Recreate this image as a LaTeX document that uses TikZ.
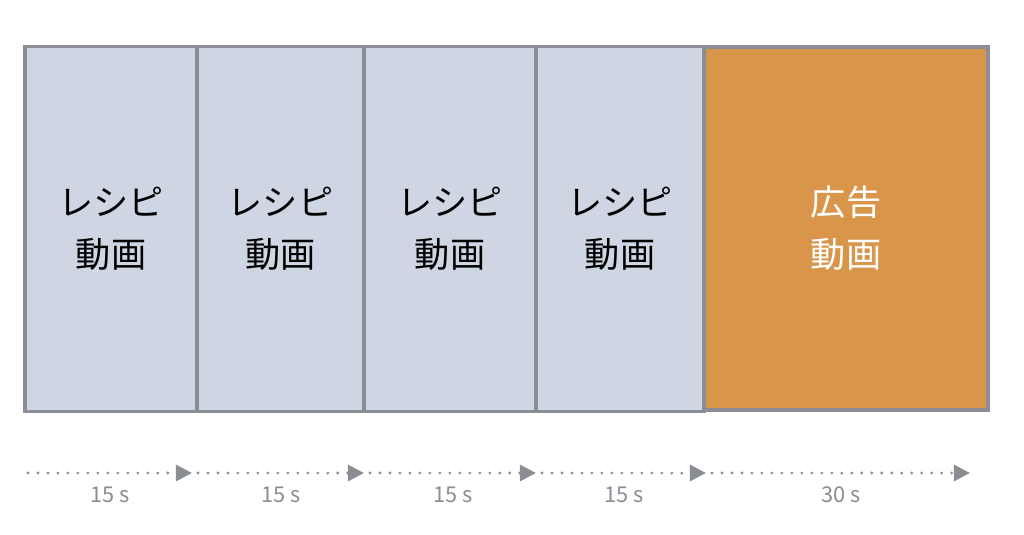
\documentclass[tikz,border=0pt]{standalone}
\usepackage{fontspec}
\setmainfont{Noto Sans CJK JP}
\usepackage{tikz}
\usetikzlibrary{arrows.meta}
\definecolor{boxgray}{HTML}{8A8D93}
\definecolor{recipefill}{HTML}{CDD6E2}
\definecolor{adfill}{HTML}{D9964B}
\tikzset{clipbox/.style={draw=boxgray,line width=2.6pt,inner sep=0pt,
                      align=center,font=\fontsize{25}{37}\selectfont}}
\tikzset{recipe/.style={clipbox,fill=recipefill,text=black}}
\tikzset{advert/.style={clipbox,fill=adfill,text=white}}
\def\boxheight{365}

\begin{document}
\begin{tikzpicture}[x=0.025cm,y=-0.025cm]
    \tikzstyle{timeline}=[draw=boxgray,line width=2.2pt,line cap=round,
        dash pattern=on 0pt off 7.1pt,-{Triangle[length=11.5pt,width=11.5pt,line cap=butt]}]
    \tikzstyle{secs}=[text=boxgray,font=\fontsize{15.5}{18}\selectfont]
    \useasboundingbox (0,0) rectangle (1024,534);

    % Draw the recipe clips
    \foreach \name / \cx / \w in {1/111/172,2/280.5/167,3/450/172,4/620/168}
        \node[recipe,minimum width=\w*0.025cm,minimum height=\boxheight*0.025cm]
            (R-\name) at (\cx,229) {レシピ\\動画};

    % Draw the advert clip
    \node[advert,minimum width=284*0.025cm,minimum height=363*0.025cm]
        (A) at (846,228.5) {広告\\動画};

    % Tick points of the timeline
    \foreach \name / \x in {0/28,1/198,2/370,3/542,4/712,5/976}
        \coordinate (T-\name) at (\x,473);

    % Draw the timeline, one dotted arrow per clip
    \foreach \source / \dest / \sec in {0/1/15 s,1/2/15 s,2/3/15 s,3/4/15 s,4/5/30 s}
        \draw[timeline] (T-\source) -- ([xshift=-4.3pt]T-\dest)
            node[secs,midway,below=5.5pt] (L-\dest) {\sec};
\end{tikzpicture}
\end{document}
